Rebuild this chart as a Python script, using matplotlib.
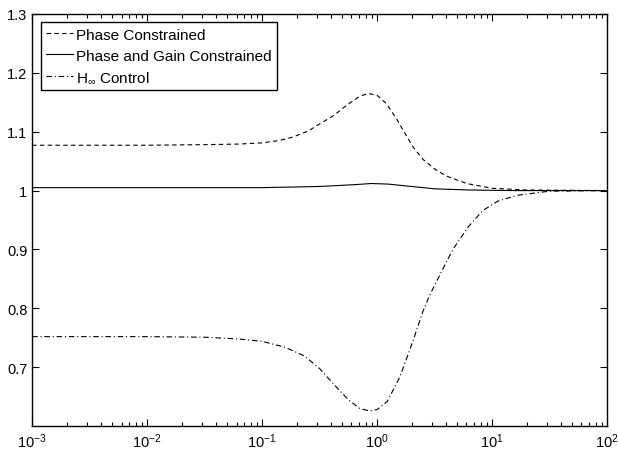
import numpy as np
import matplotlib
matplotlib.use("Agg")
import matplotlib.pyplot as plt
from matplotlib.ticker import FuncFormatter, LogLocator

plt.rcParams['font.family'] = ['Liberation Sans', 'DejaVu Sans']
plt.rcParams['mathtext.fontset'] = 'custom'
plt.rcParams['mathtext.rm'] = 'Liberation Sans'
plt.rcParams['mathtext.it'] = 'Liberation Sans'

# Phase constrained (dashed) : log10(w), gain
logw_pc = [-3, -2, -1.5, -1.2, -1.0, -0.85, -0.73, -0.6, -0.5, -0.38, -0.25, -0.15,
           -0.08, 0.0, 0.08, 0.17, 0.25, 0.31, 0.4, 0.5, 0.6, 0.78, 1.0, 1.3, 2.0]
val_pc = [1.077, 1.077, 1.078, 1.079, 1.081, 1.085, 1.091, 1.101, 1.113, 1.127, 1.147, 1.160,
          1.165, 1.162, 1.148, 1.122, 1.095, 1.075, 1.053, 1.037, 1.025, 1.012, 1.004, 1.001, 1.0]

# Phase and gain constrained (solid)
logw_pg = [-3, -2, -1, -0.5, -0.2, -0.05, 0.1, 0.3, 0.5, 0.8, 1.2, 2.0]
val_pg = [1.005, 1.005, 1.005, 1.007, 1.010, 1.012, 1.011, 1.007, 1.003, 1.001, 1.0, 1.0]

# H-infinity control (dash-dot)
logw_hi = [-3, -2, -1.5, -1.2, -1.0, -0.8, -0.63, -0.5, -0.38, -0.25, -0.15, -0.07, 0.0,
           0.09, 0.2, 0.31, 0.4, 0.46, 0.55, 0.66, 0.8, 0.92, 1.05, 1.22, 1.5, 2.0]
val_hi = [0.752, 0.752, 0.751, 0.748, 0.744, 0.734, 0.719, 0.698, 0.672, 0.645, 0.630, 0.626, 0.628,
          0.642, 0.684, 0.743, 0.795, 0.823, 0.858, 0.900, 0.940, 0.966, 0.982, 0.992, 0.999, 1.0]

fig = plt.figure(figsize=(6.18, 4.52), dpi=100)
ax = fig.add_axes([0.052, 0.055, 0.930, 0.912])

ax.semilogx(10.0 ** np.array(logw_pc), val_pc, color='black', lw=0.8,
            linestyle=(0, (4, 3)), label='Phase Constrained')
ax.semilogx(10.0 ** np.array(logw_pg), val_pg, color='black', lw=0.8,
            linestyle='-', label='Phase and Gain Constrained')
ax.semilogx(10.0 ** np.array(logw_hi), val_hi, color='black', lw=0.8,
            linestyle=(0, (5, 2.5, 1, 2.5)), label=r'H$_{\infty}$ Control')

ax.set_xlim(1e-3, 1e2)
ax.set_ylim(0.6, 1.3)
ax.set_yticks([0.7, 0.8, 0.9, 1.0, 1.1, 1.2, 1.3])
ax.yaxis.set_major_formatter(FuncFormatter(lambda v, p: '%g' % round(v, 2)))
ax.xaxis.set_major_locator(LogLocator(base=10, numticks=10))
ax.xaxis.set_minor_locator(LogLocator(base=10, subs=np.arange(2, 10), numticks=20))

ax.tick_params(which='both', direction='in', top=True, right=True, labelsize=10.5,
               width=0.8, color='black')
ax.tick_params(which='major', length=5)
ax.tick_params(which='minor', length=3)
for s in ax.spines.values():
    s.set_linewidth(1.0)

leg = ax.legend(loc='upper left', fontsize=11, frameon=True, fancybox=False,
                framealpha=1, edgecolor='black', handlelength=1.75, handletextpad=0.2,
                borderpad=0.35, labelspacing=0.45, borderaxespad=0.55)
leg.get_frame().set_linewidth(1.0)

fig.savefig('out.png', dpi=100)
